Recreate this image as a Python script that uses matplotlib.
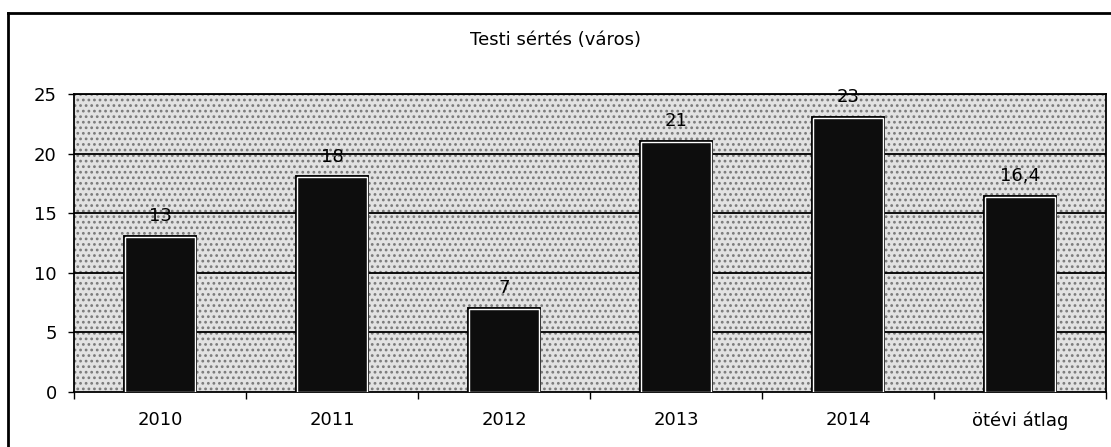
import matplotlib.pyplot as plt
from matplotlib.lines import Line2D
import numpy as np

plt.rcParams['font.family'] = ['DejaVu Sans']

# data
categories = ["2010", "2011", "2012", "2013", "2014", "ötévi átlag"]
values = [13, 18, 7, 21, 23, 16.4]
labels = ["13", "18", "7", "21", "23", "16,4"]
yticks = [0, 5, 10, 15, 20, 25]

fig = plt.figure(figsize=(11.11, 4.47), dpi=100)
ax = fig.add_axes([74 / 1111, 1 - 392 / 447, (1106 - 74) / 1111, (392 - 94) / 447])

# speckled grey background
ax.set_facecolor("#e2e2e2")
plt.rcParams['hatch.linewidth'] = 1.2
ax.axhspan(0, 25, facecolor="none", edgecolor="#7a7a7a", hatch="...", linewidth=0, zorder=0)

x = np.arange(len(categories))
for yt in yticks[1:]:
    ax.axhline(yt, color="black", linewidth=1.3, zorder=1)

# outer black edge + white inner outline
ax.bar(x, values, width=0.41, color="#0d0d0d", edgecolor="black", linewidth=2.8, zorder=2)
ax.bar(x, values, width=0.41, color="#0d0d0d", edgecolor="white", linewidth=1.0, zorder=3)

for xi, v, lab in zip(x, values, labels):
    ax.text(xi, v + 1.0, lab, ha="center", va="bottom", fontsize=13, color="black", zorder=4)

ax.set_xlim(-0.5, len(categories) - 0.5)
ax.set_ylim(0, 25)
ax.set_yticks(yticks)
ax.set_yticklabels([str(t) for t in yticks], fontsize=13)
ax.set_xticks(x)
ax.set_xticklabels(categories, fontsize=13)
ax.set_xticks(np.arange(len(categories) + 1) - 0.5, minor=True)
ax.tick_params(axis="x", which="major", length=0, pad=14)
ax.tick_params(axis="x", which="minor", length=5, width=1, direction="out")
ax.tick_params(axis="y", length=4.5, width=1, direction="out", pad=8)
for s in ax.spines.values():
    s.set_color("black")
    s.set_linewidth(1.3)

fig.text(0.5, 1 - 40 / 447, "Testi sértés (város)", ha="center", va="center", fontsize=13)

# outer chart frame (top and left visible)
fig.add_artist(Line2D([8 / 1111, 1.0], [1 - 13 / 447, 1 - 13 / 447], color="black", linewidth=2, transform=fig.transFigure))
fig.add_artist(Line2D([8 / 1111, 8 / 1111], [0.0, 1 - 13 / 447], color="black", linewidth=2, transform=fig.transFigure))

fig.savefig("out.png", dpi=100)
